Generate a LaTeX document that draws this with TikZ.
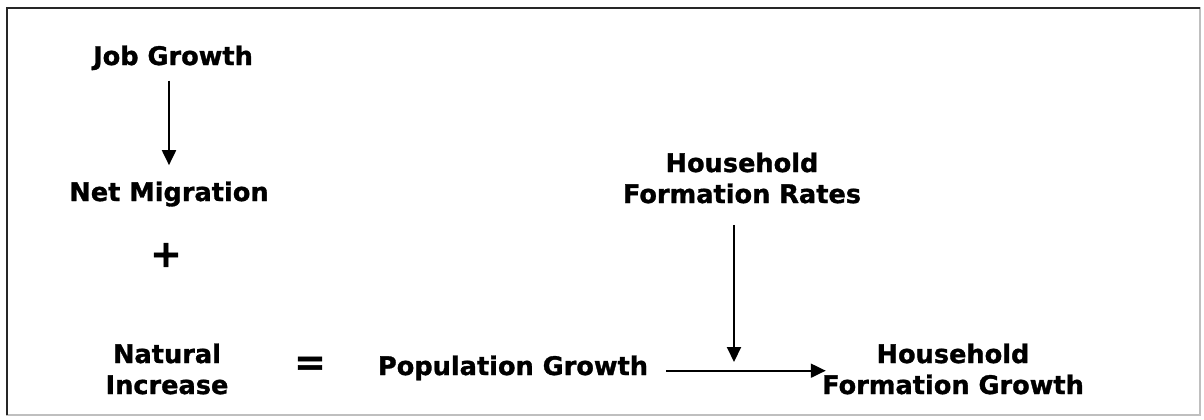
\documentclass[tikz,border=0pt]{standalone}
\usepackage{fontspec}
\newfontfamily\diagfont{DejaVu Sans Bold}[FakeBold=1.2]
\usetikzlibrary{arrows.meta}
\begin{document}
\begin{tikzpicture}[x=0.5pt,y=-0.5pt,
	lbl/.style={font=\fontsize{12.8}{15.5}\diagfont, align=center, inner sep=0pt, anchor=base},
	sign/.style={lbl, font=\fontsize{19}{19}\diagfont, anchor=center},
	arr/.style={line width=1pt, -{Triangle[length=7.5pt,width=7pt]}}]
	\useasboundingbox (0,0) rectangle (1204,419);
	% frame
	\draw[black!25, line width=1pt] (7,8) rectangle (1200,415);
	\draw[black!85, line width=1.2pt] (7,415) -- (7,8) -- (1200,8);
	% left column
	\node[lbl] at (173,65) (jobs) {Job Growth};
	\node[lbl] at (169,201) (netmig) {Net Migration};
	\node[sign] at (166,255) (plus) {+};
	\node[lbl] at (167,394) (natinc) {Natural\\Increase};
	\node[sign] at (310,366) (equals) {=};
	% right part
	\node[lbl] at (513,375) (popgrowth) {Population Growth};
	\node[lbl] at (742,203) (hhrates) {Household\\Formation Rates};
	\node[lbl] at (953,394) (hhgrowth) {Household\\Formation Growth};
	\coordinate (join) at (734,367);
	\draw[arr, shorten <=5pt, shorten >=8pt] (jobs.south -| netmig) -- (netmig.north);
	\draw[arr, shorten <=10.5pt, shorten >=2.5pt] (hhrates.south -| join) -- (join);
	\draw[arr, shorten <=9pt, shorten >=-2pt] (popgrowth.mid east) -- (popgrowth.mid east -| hhgrowth.west);
\end{tikzpicture}
\end{document}
